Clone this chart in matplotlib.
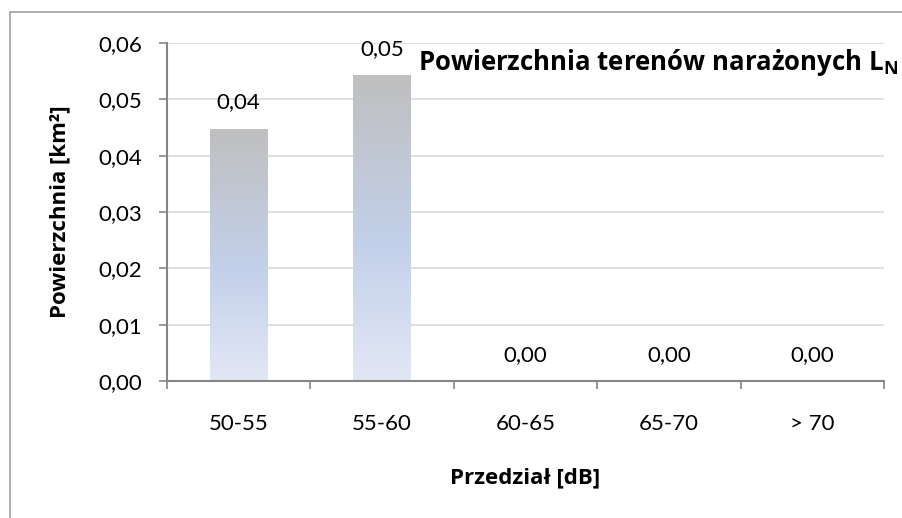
import matplotlib.pyplot as plt
import matplotlib.patches as mpatches
from matplotlib.colors import LinearSegmentedColormap
import numpy as np

plt.rcParams['font.family'] = ['Lato', 'DejaVu Sans']
plt.rcParams['mathtext.fontset'] = 'custom'
plt.rcParams['mathtext.bf'] = 'Open Sans:bold'
plt.rcParams['mathtext.rm'] = 'Open Sans'

categories = ["50-55", "55-60", "60-65", "65-70", "> 70"]
values = [0.0448, 0.0543, 0.0, 0.0, 0.0]
labels = ["0,04", "0,05", "0,00", "0,00", "0,00"]
yticks = [0.0, 0.01, 0.02, 0.03, 0.04, 0.05, 0.06]

grey = "#868686"
bold_font = ['Open Sans', 'DejaVu Sans']
grad = LinearSegmentedColormap.from_list(
    "bar", [(0.0, "#e2e7f4"), (0.45, "#c3d0ea"), (1.0, "#bfbfbf")])

fig = plt.figure(figsize=(9.02, 5.18), dpi=100)
# outer chart frame (cut off on the right and bottom)
fig.patches.append(mpatches.Rectangle((10 / 902, -0.1), 2, 1 - 12 / 518 + 0.1,
                                      transform=fig.transFigure, fill=False,
                                      edgecolor="#a0a0a0", linewidth=1.2))

ax = fig.add_axes([167 / 902, 1 - 381 / 518, (884 - 167) / 902, (381 - 43) / 518])
x = np.arange(len(categories))
bars = ax.bar(x, values, width=0.4, color="none", edgecolor="none", zorder=2)

for b, v in zip(bars, values):
    if v <= 0:
        continue
    g = np.linspace(0, 1, 256).reshape(-1, 1)
    im = ax.imshow(g, cmap=grad, origin="lower", aspect="auto", zorder=2,
                   extent=[b.get_x(), b.get_x() + b.get_width(), 0, v])
    im.set_clip_path(b)

for xi, v, lab in zip(x, values, labels):
    ax.annotate(lab, (xi, v), xytext=(0, 19), textcoords="offset points",
                ha="center", va="center", fontsize=16)

ax.set_xlim(-0.5, len(categories) - 0.5)
ax.set_ylim(0, 0.06)
ax.set_yticks(yticks)
ax.set_yticklabels([f"{t:.2f}".replace(".", ",") for t in yticks], fontsize=16)
ax.set_xticks(x)
ax.set_xticklabels(categories, fontsize=16)
ax.set_xticks(np.arange(len(categories) + 1) - 0.5, minor=True)
ax.tick_params(axis="x", which="major", length=0, pad=24)
ax.tick_params(axis="x", which="minor", length=6, color=grey, width=1.2)
ax.tick_params(axis="y", length=6, color=grey, width=1.2, pad=12)

ax.grid(axis="y", color="#d9d9d9", linewidth=1.2, zorder=0)
ax.set_axisbelow(True)
for s in ["top", "right"]:
    ax.spines[s].set_visible(False)
for s in ["left", "bottom"]:
    ax.spines[s].set_color(grey)
    ax.spines[s].set_linewidth(1.5)

ax.set_ylabel("Powierzchnia [km²]", fontsize=16, fontweight="bold", family=bold_font)
ax.yaxis.set_label_coords((70 - 167) / 717, 0.5)
ax.set_xlabel("Przedział [dB]", fontsize=16, fontweight="bold", family=bold_font)
ax.xaxis.set_label_coords(0.5, -(478 - 381) / 338)
ax.xaxis.label.set_va("center")

fig.text(418 / 902, 1 - 62 / 518, r"Powierzchnia terenów narażonych L$_\mathbf{N}$",
         fontsize=18.5, fontweight="bold", va="center", ha="left", family=bold_font)

fig.savefig("out.png", dpi=100)
